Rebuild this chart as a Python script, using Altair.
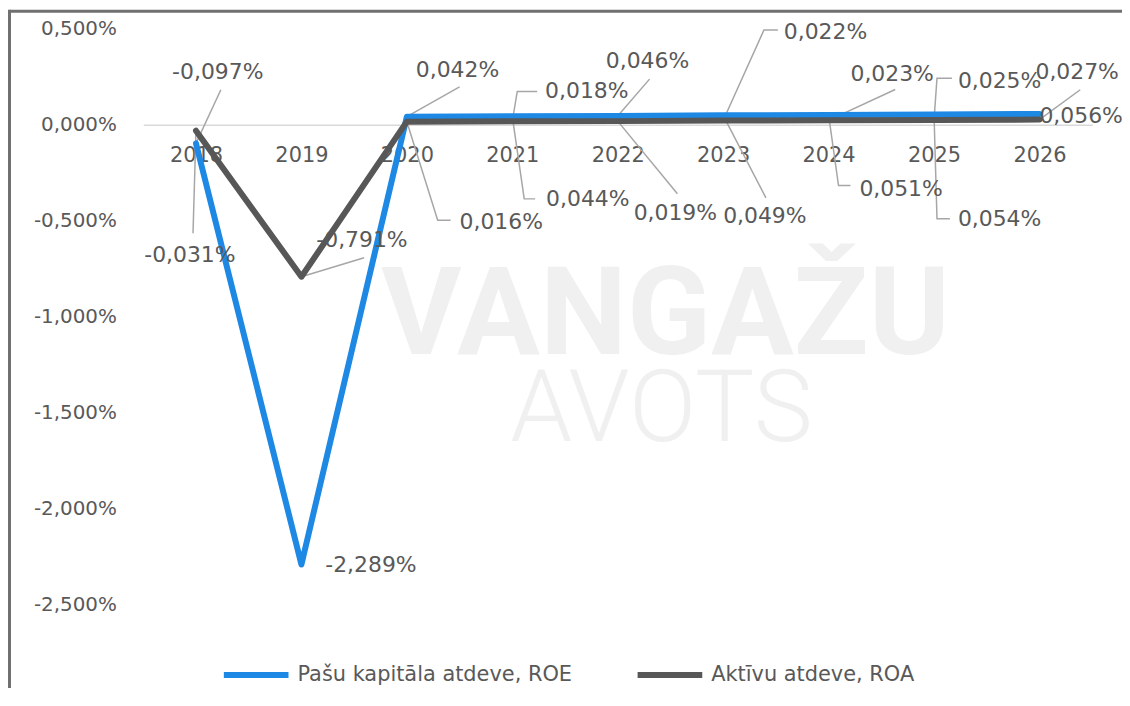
import altair as alt
import pandas as pd

# ---------------- data ----------------
YEARS = [2018, 2019, 2020, 2021, 2022, 2023, 2024, 2025, 2026]
ROE = [-0.097, -2.289, 0.042, 0.044, 0.046, 0.049, 0.051, 0.054, 0.056]
ROA = [-0.031, -0.791, 0.016, 0.018, 0.019, 0.022, 0.023, 0.025, 0.027]
SERIES = ["Pašu kapitāla atdeve, ROE", "Aktīvu atdeve, ROA"]
Y_TICKS = [0.5, 0.0, -0.5, -1.0, -1.5, -2.0, -2.5]
WATERMARK_TOP = "VANGAŽU"
WATERMARK_BOTTOM = "AVOTS"

# ---------------- layout / style ----------------
W, H = 954, 647
X_DOM = [2017.5, 2026.5]
Y_DOM = [-2.85, 0.5]
PXX = W / (X_DOM[1] - X_DOM[0])
PXY = H / (Y_DOM[1] - Y_DOM[0])
ZERO_PX = (Y_DOM[1] - 0.0) * PXY
FONT = "DejaVu Sans"
TXT = "#595959"
COLORS = ["#1E88E5", "#575757"]

# label placement (pixel offsets from the data point) and leader-line bends
ROE_LABEL_OFF = [(-24, -72), (24, 1), (9, -47), (34, 83), (-12, -55), (0, 101), (31, 74), (24, 105), (0, 2)]
ROE_LEADER = [[(25, -54)], [], [(53, -30)], [(12, 83), (23, 83)], [(32, -37)], [(43, 83)],
              [(10, 71), (22, 71)], [(3, 105), (16, 105)], []]
ROA_LABEL_OFF = [(-52, 125), (15, -37), (53, 101), (33, -30), (16, 92), (61, -89), (22, -47), (24, -39), (-4, -48)]
ROA_LEADER = [[(-3, 103)], [(63, -19)], [(31, 99), (44, 99)], [(5, -30), (25, -30)], [(60, 73)],
              [(41, -91), (55, -91)], [(67, -31)], [(3, -42), (18, -42)], [(41, -30)]]


def fmt(v):
    return f"{v:.3f}".replace(".", ",") + "%"


line_rows, label_rows, leader_rows = [], [], []
for name, vals, offs, leads in [(SERIES[0], ROE, ROE_LABEL_OFF, ROE_LEADER),
                                (SERIES[1], ROA, ROA_LABEL_OFF, ROA_LEADER)]:
    for yr, v, (dx, dy), lead in zip(YEARS, vals, offs, leads):
        line_rows.append({"year": yr, "value": v, "series": name})
        label_rows.append({"lx": yr + dx / PXX, "ly": v - dy / PXY, "text": fmt(v)})
        if lead:
            lid = f"{name}-{yr}"
            leader_rows.append({"id": lid, "ord": 0, "lx": yr, "ly": v})
            for k, (ox, oy) in enumerate(lead):
                leader_rows.append({"id": lid, "ord": k + 1, "lx": yr + ox / PXX, "ly": v - oy / PXY})

df_lines = pd.DataFrame(line_rows)
df_labels = pd.DataFrame(label_rows)
df_leaders = pd.DataFrame(leader_rows)
one = pd.DataFrame({"a": [0]})

xs = alt.Scale(domain=X_DOM, nice=False, zero=False)
ys = alt.Scale(domain=Y_DOM, nice=False, zero=False)

x_axis = alt.Axis(values=YEARS, format="d", title=None, ticks=False, tickSize=0, grid=False,
                  domainColor="#D9D9D9", domainWidth=1.5, labelFont=FONT, labelFontSize=21,
                  labelColor=TXT, labelPadding=20, offset=-(H - ZERO_PX), labelFlush=False,
                  labelOverlap=False)
y_axis = alt.Axis(values=Y_TICKS, title=None, ticks=False, tickSize=0, grid=False, domain=False,
                  labelFont=FONT, labelFontSize=20, labelColor=TXT, labelPadding=27,
                  labelExpr="replace(replace(format(datum.value, '.3f'), '.', ','), '\u2212', '-') + '%'")

legend = alt.Legend(title=None, orient="none", legendX=78, legendY=614, direction="horizontal",
                    symbolType="stroke", symbolSize=4225, symbolStrokeWidth=6, labelFont=FONT,
                    labelFontSize=21, labelColor=TXT, labelOffset=6, columnPadding=53, padding=0,
                    labelLimit=0)
color = alt.Color("series:N", scale=alt.Scale(domain=SERIES, range=COLORS), legend=legend)


def X(f):
    return alt.X(f, scale=xs, axis=x_axis)


def Y(f):
    return alt.Y(f, scale=ys, axis=y_axis)


wm1 = alt.Chart(one).mark_text(text=WATERMARK_TOP, font="Roboto", fontWeight="bold", fontSize=124,
                               color="#F0F0F0", align="left", baseline="alphabetic").encode(
    x=alt.value(383 - 144), y=alt.value(354 - 27))
wm2 = alt.Chart(one).mark_text(text=WATERMARK_BOTTOM, font="Roboto", fontWeight=300, fontSize=100,
                               color="#F0F0F0", align="left", baseline="alphabetic").encode(
    x=alt.value(513 - 144), y=alt.value(442 - 27))

frame_top = alt.Chart(one).mark_rule(color="#707070", strokeWidth=3).encode(
    x=alt.value(-134.5), x2=alt.value(W + 40), y=alt.value(-17.5))
frame_left = alt.Chart(one).mark_rule(color="#707070", strokeWidth=3).encode(
    x=alt.value(-134.5), y=alt.value(-19), y2=alt.value(H + 20))

leaders = alt.Chart(df_leaders).mark_line(stroke="#A6A6A6", strokeWidth=1.5).encode(
    x=X("lx:Q"), y=Y("ly:Q"), detail="id:N", order="ord:Q")

line_roe = alt.Chart(df_lines[df_lines.series == SERIES[0]]).mark_line(
    strokeWidth=6, strokeCap="round", strokeJoin="round").encode(
    x=X("year:Q"), y=Y("value:Q"), color=color)
line_roa = alt.Chart(df_lines[df_lines.series == SERIES[1]]).mark_line(
    strokeWidth=6, strokeCap="round", strokeJoin="round").encode(
    x=X("year:Q"), y=Y("value:Q"), color=color)

labels = alt.Chart(df_labels).mark_text(align="left", baseline="middle", font=FONT, fontSize=22,
                                        color=TXT).encode(x=X("lx:Q"), y=Y("ly:Q"), text="text:N")

chart = alt.layer(wm1, wm2, frame_top, frame_left, leaders, line_roe, line_roa, labels).properties(
    width=W, height=H,
    autosize=alt.AutoSizeParams(type="none"),
    padding={"left": 136, "top": 19, "right": 30, "bottom": 14},
).configure_view(stroke=None)

chart.save("out.html", embed_options={"renderer": "svg", "actions": False})
